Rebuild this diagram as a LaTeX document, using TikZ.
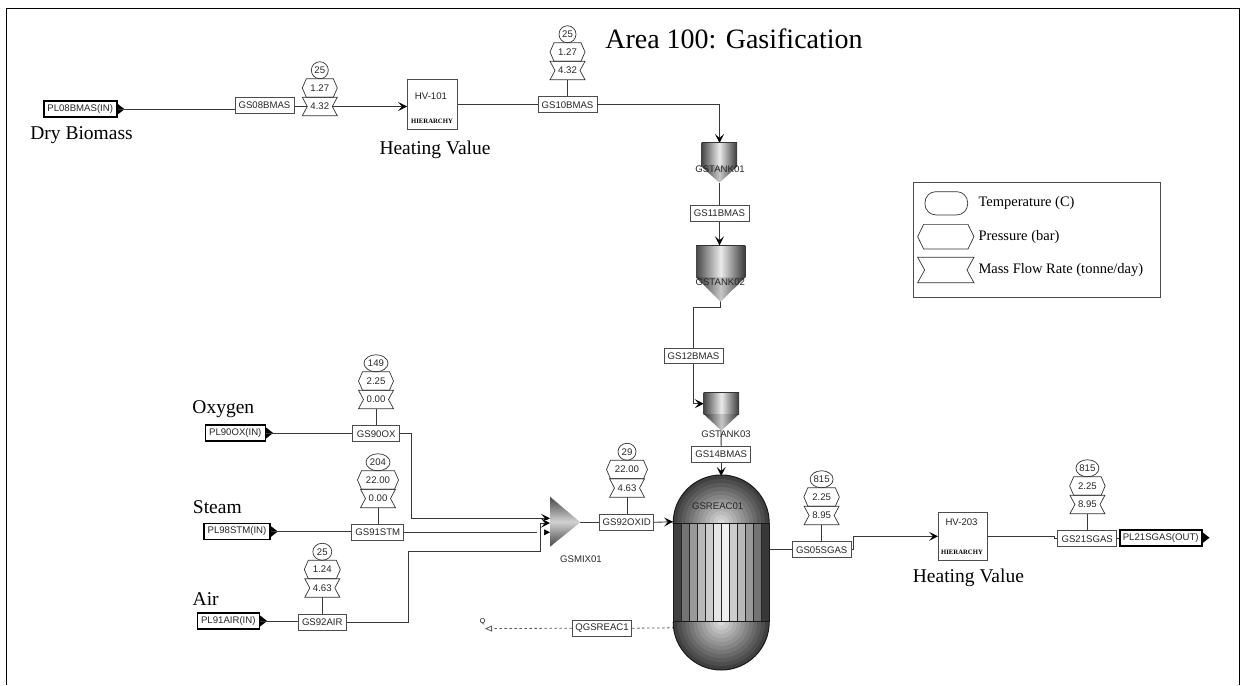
\documentclass[tikz,border=0pt]{standalone}
\usepackage{fontspec}
\setmainfont{Liberation Serif}
\setsansfont{Liberation Sans}
\usetikzlibrary{arrows.meta,positioning,calc,shapes.geometric}
\newcommand{\tagfont}{\sffamily\fontsize{9.6}{10}\selectfont\color{black!85}}
\newcommand{\bigfont}{\rmfamily\fontsize{19.5}{21}\selectfont}
\newcommand{\keyfont}{\rmfamily\fontsize{14.5}{16}\selectfont}
% hexagon and notched outline round a plain node
\newcommand{\hexline}[2][4pt]{\draw[tagline] ([xshift=#1]#2.north west) -- ([xshift=-#1]#2.north east) -- (#2.east) -- ([xshift=-#1]#2.south east) -- ([xshift=#1]#2.south west) -- (#2.west) -- cycle;}
\newcommand{\flowline}[2][5pt]{\draw[tagline] (#2.north west) -- (#2.north east) -- ([xshift=-#1]#2.east) -- (#2.south east) -- (#2.south west) -- ([xshift=#1]#2.west) -- cycle;}
% name, x, y of flow tag, temperature, pressure, flow, width of pressure tag, width of temperature tag
\newcommand{\gauge}[8]{
  \node[flowtag] (#1f) at (#2,#3) {#6};
  \node[prestag, minimum width=#7pt, above=0pt of #1f] (#1p) {#5};
  \node[temptag, minimum width=#8pt, above=0pt of #1p] (#1t) {#4};
  \hexline{#1p}
  \flowline{#1f}
}
% name, left x, top y, width, height of body, height of cone
\newcommand{\tank}[6]{
  \shade[left color=black!72, right color=black!78, middle color=black!8] (#2,#3) rectangle ++(#4,#5);
  \shade[left color=black!80, right color=black!80, middle color=black!22] (#2,#3+#5) -- ++(#4,0) -- ++(-#4/2,#6) -- cycle;
  \draw[black!80, line width=.8pt] (#2,#3) -- ++(#4,0);
  \coordinate (#1top) at (#2+#4/2,#3);
  \coordinate (#1tip) at (#2+#4/2,#3+#5+#6);
}
\begin{document}
\begin{tikzpicture}[
  x=1pt, y=-1pt,
  conn/.style={draw=black!78, line width=.9pt},
  flow/.style={conn, -{Stealth[length=9pt,width=9pt,inset=4pt,black]}},
  tagline/.style={draw=black!80, line width=.7pt},
  strm/.style={draw=black!70, line width=.9pt, fill=white, font=\tagfont, inner sep=0pt, minimum height=16pt},
  port/.style={draw=black, line width=1.6pt, fill=white, font=\tagfont, inner sep=0pt, minimum height=16pt},
  hvbox/.style={draw=black!70, line width=.9pt, fill=white, minimum width=50pt, minimum height=50pt, inner sep=0pt},
  flowtag/.style={font=\tagfont, inner sep=0pt, outer sep=0pt, minimum width=35pt, minimum height=18.5pt},
  prestag/.style={font=\tagfont, inner sep=0pt, outer sep=0pt, minimum height=18.5pt},
  temptag/.style={draw=black!80, line width=.7pt, ellipse, font=\tagfont, inner sep=0pt, outer sep=0pt, minimum height=17pt},
  lbl/.style={font=\bigfont, inner sep=0pt},
  keytxt/.style={font=\keyfont, inner sep=0pt, anchor=west},
  blocktxt/.style={font=\tagfont, inner sep=0pt},
  hiertxt/.style={font=\rmfamily\bfseries\fontsize{6.7}{7}\selectfont, inner sep=0pt}
]
\useasboundingbox (0,0) rectangle (1241,685);

% frame
\coordinate (fbl) at (6.7,685);
\coordinate (ftl) at (6.7,8.3);
\coordinate (ftr) at (1239.5,8.3);
\coordinate (fbr) at (1239.5,685);
\draw[black, line width=1.5pt] (fbl) -- (ftl) -- (ftr) -- (fbr);

\node[font=\rmfamily\fontsize{28}{30}\selectfont, inner sep=0pt] (title) at (734,39) {Area 100: Gasification};

% ports and stream boxes
\node[port, minimum width=73pt] (pl08) at (80.2,109.2) {PL08BMAS(IN)};
\node[strm, minimum width=59pt] (gs08) at (264.5,105) {GS08BMAS};
\node[hvbox] (hv101) at (432.5,104.3) {};
\node[strm, minimum width=59pt] (gs10) at (567.5,104.7) {GS10BMAS};
\node[strm, minimum width=59pt] (gs11) at (719.5,213.5) {GS11BMAS};
\node[strm, minimum width=59pt, minimum height=15pt] (gs12) at (693.5,355.8) {GS12BMAS};
\node[strm, minimum width=59pt] (gs14) at (721.2,454.3) {GS14BMAS};
\node[port, minimum width=60pt] (pl90) at (235.3,433) {PL90OX(IN)};
\node[strm, minimum width=47pt] (gs90) at (376.2,433.7) {GS90OX};
\node[port, minimum width=66pt] (pl98) at (237,531.5) {PL98STM(IN)};
\node[strm, minimum width=52pt] (gs91) at (377.8,532.3) {GS91STM};
\node[port, minimum width=62pt] (pl91) at (228.3,621) {PL91AIR(IN)};
\node[strm, minimum width=48.7pt] (gs92) at (322.3,622) {GS92AIR};
\node[strm, minimum width=54pt] (gsox) at (626.7,522.3) {GS92OXID};
\node[strm, minimum width=59.4pt] (qgs) at (602,628.2) {QGSREAC1};
\node[strm, minimum width=59pt] (gs05) at (821.7,549.8) {GS05SGAS};
\node[hvbox, minimum width=48.5pt, minimum height=48pt] (hv203) at (962.7,536.3) {};
\node[strm, minimum width=59pt] (gs21) at (1087.2,538.7) {GS21SGAS};
\node[port, minimum width=82pt] (pl21) at (1160.7,537.7) {PL21SGAS(OUT)};

% port tips
\foreach \n in {pl08,pl90,pl98,pl91,pl21}
  \fill[black] (\n.east) ++(0,-5.5) -- ++(7,5.5) -- ++(-7,5.5) -- cycle;

% free ends
\coordinate (mixa) at (550,518.3);
\coordinate (mixb) at (550,532.3);
\coordinate (mixc) at (550,523);
\coordinate (mixo) at (580.3,522.3);
\coordinate (reaclt) at (673,521.7);
\coordinate (reacrt) at (769.4,549.8);
\coordinate (reactop) at (721.2,476);
\coordinate (reacq) at (673,627.8);
\coordinate (tk3in) at (703.7,403.7);
\coordinate (qend) at (485,628.6);

% connectors
\draw[conn] (pl08.east) -- (pl08.east -| gs08.west);
\draw[flow] (gs10.east) -| (719.5,143);
\draw[conn] (hv101.east |- gs10.west) -- (gs10.west);
\draw[conn] (719.5,183) -- (gs11.north);
\draw[flow] (gs11.south) -- (719.5,245.3);
\draw[conn] (720.3,301) -- ++(0,6.7) -| (gs12.north);
\draw[flow] (gs12.south) |- (tk3in);
\draw[conn] (721,430) -- (gs14.north);
\draw[flow] (gs14.south) -- (reactop);
\draw[conn] (pl90.east) -- (pl90.east -| gs90.west);
\draw[conn] (pl98.east) -- (pl98.east -| gs91.west);
\draw[conn] (pl91.east) -- (pl91.east -| gs92.west);
\draw[flow] (gs90.east) -- ++(11,0) |- (mixa);
\draw[flow] (gs91.east) -- (mixb);
\draw[flow, preaction={draw=white, line width=7pt, -}] (540.7,551.3) -- (540.7,523) -- (mixc);
\draw[conn] (gs92.east) -- ++(61.3,0) |- (540.7,551.3);
\draw[conn] (mixo) -- (gsox.west);
\draw[flow] (gsox.east) -- (reaclt);
\draw[conn] (reacrt) -- (gs05.west);
\draw[flow] (gs05.east) -- ++(1.8,0) |- (hv203.west);
\draw[conn] (hv203.east) -- (1054,536.3) |- (gs21.west);
\draw[conn] (gs21.east) -- (gs21.east -| pl21.west);
\draw[draw=black!65, line width=.8pt, dash pattern=on 2.5pt off 2.5pt] (qgs.east) -- (reacq);
\draw[draw=black!65, line width=.8pt, dash pattern=on 2.5pt off 2.5pt, -{Stealth[open,length=7pt,width=6pt,inset=0pt]}] (qgs.west) -- (qend);
\node[font=\sffamily\fontsize{7}{8}\selectfont, inner sep=0pt] (qlbl) at (482.7,621.7) {Q};

% tanks
\tank{tka}{701.7}{142.7}{35.3}{24}{16}
\tank{tkb}{696}{245.3}{49.3}{32}{24.4}
\tank{tkc}{703.7}{392.7}{35.3}{21.3}{16.7}
\node[blocktxt] (tkalbl) at (720,169.3) {GSTANK01};
\node[blocktxt] (tkblbl) at (720.3,282.3) {GSTANK02};
\node[blocktxt] (tkclbl) at (726,434) {GSTANK03};

% mixer
\shade[top color=black!72, bottom color=black!72, middle color=black!18] (550,496.7) -- (mixo) -- (550,546.7) -- cycle;
\node[blocktxt] (mixlbl) at (581,559) {GSMIX01};

% reactor
\foreach \cy/\ya/\yb in {523/470/523, 622/622/676} {
  \begin{scope}
    \clip (660,\ya) rectangle (780,\yb);
    \foreach \r in {48,44,...,4} {
      \pgfmathsetmacro\g{10+65*\r/48}
      \fill[black!\g] (721.2,\cy) circle (\r pt);
    }
    \draw[black!90, line width=1pt] (721.2,\cy) circle (48pt);
  \end{scope}
}
\foreach \xa/\g in {673.2/75,681.2/55,689.2/40,697.2/28,705.2/20,713.2/10,721.2/6,729.2/20,737.2/28,745.2/40,753.2/55,761.2/78}
  \fill[black!\g] (\xa,523.5) rectangle ++(8,98);
\foreach \xa in {681.2,689.2,...,761.2}
  \draw[black!85, line width=.7pt] (\xa,523.5) -- (\xa,621.5);
\draw[black!90, line width=1pt] (673.2,523.5) rectangle (769.2,621.5);
\node[blocktxt] (reaclbl) at (717.7,506) {GSREAC01};

% hierarchy blocks
\node[blocktxt] (hv101a) at (431,96) {HV-101};
\node[hiertxt] (hv101b) at (432,121) {HIERARCHY};
\node[blocktxt] (hv203a) at (961.5,521.7) {HV-203};
\node[hiertxt] (hv203b) at (962,552.7) {HIERARCHY};

% tags
\gauge{ga}{319.8}{106.5}{25}{1.27}{4.32}{35}{17}
\gauge{gb}{567.5}{70.5}{25}{1.27}{4.32}{35}{17}
\gauge{gc}{376}{399.5}{149}{2.25}{0.00}{35}{24}
\gauge{gd}{378}{498.5}{204}{22.00}{0.00}{41}{24}
\gauge{ge}{322.3}{588}{25}{1.24}{4.63}{36}{19}
\gauge{gf}{627}{488}{29}{22.00}{4.63}{41}{18}
\gauge{gg}{821.6}{515.5}{815}{2.25}{8.95}{35.5}{23}
\gauge{gh}{1087.4}{504.5}{815}{2.25}{8.95}{35.5}{23}
\draw[conn] (gs08.east |- gaf.west) -- ([xshift=5pt]gaf.west);
\draw[flow] ([xshift=-5pt]gaf.east) -- (gaf.east -| hv101.west);
\draw[conn] (gbf.south) -- (gbf.south |- gs10.north);
\draw[conn] (gcf.south) -- (gcf.south |- gs90.north);
\draw[conn] (gdf.south) -- (gdf.south |- gs91.north);
\draw[conn] (gef.south) -- (gef.south |- gs92.north);
\draw[conn] (gff.south) -- (gff.south |- gsox.north);
\draw[conn] (ggf.south) -- (ggf.south |- gs05.north);
\draw[conn] (ghf.south) -- (ghf.south |- gs21.north);

% stream names
\node[lbl] (drybio) at (81.5,135.5) {Dry Biomass};
\node[lbl] (heata) at (435,150) {Heating Value};
\node[lbl] (heatb) at (968.4,578) {Heating Value};
\node[lbl] (oxy) at (223.3,409) {Oxygen};
\node[lbl] (steam) at (217.3,506.7) {Steam};
\node[lbl] (air) at (205.7,599.3) {Air};

% legend
\node[draw=black!70, line width=.9pt, minimum width=246.7pt, minimum height=114.6pt, inner sep=0pt] (legend) at (1036.7,240) {};
\node[draw=black!80, line width=.7pt, rounded corners=11pt, minimum width=42.7pt, minimum height=23.3pt, inner sep=0pt] (keyt) at (946.3,203.3) {};
\node[minimum width=56.3pt, minimum height=24.7pt, inner sep=0pt, outer sep=0pt] (keyp) at (945.8,236.7) {};
\node[minimum width=56.3pt, minimum height=25.4pt, inner sep=0pt, outer sep=0pt] (keyf) at (945.8,270) {};
\hexline[6pt]{keyp}
\flowline[7pt]{keyf}
\node[keytxt] (keyta) at (978.3,203) {Temperature (C)};
\node[keytxt] (keytb) at (978.3,236.7) {Pressure (bar)};
\node[keytxt] (keytc) at (978.3,270) {Mass Flow Rate (tonne/day)};
\end{tikzpicture}
\end{document}
